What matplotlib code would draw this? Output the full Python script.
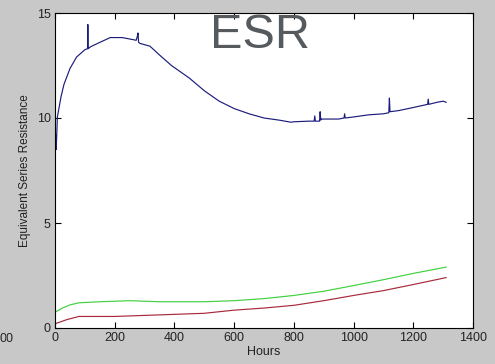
import matplotlib.pyplot as plt

plt.rcParams['font.family'] = ['Liberation Sans', 'DejaVu Sans']

# ESR curves
hours_blue = [0, 2, 4, 8, 20, 30, 50, 72, 100, 109, 110, 111, 120, 150, 185, 225, 262, 272,
              276, 278, 280, 285, 318, 350, 390, 450, 500, 550, 600, 650, 700, 750, 790,
              800, 850, 868, 870, 872, 886, 888, 890, 892, 900, 950, 968, 970, 972, 1000,
              1050, 1100, 1118, 1120, 1122, 1150, 1200, 1248, 1250, 1252, 1280, 1300, 1310]
esr_blue = [8.2, 9.2, 8.5, 10.05, 11.0, 11.6, 12.35, 12.9, 13.25, 13.3, 14.45, 13.3, 13.4,
            13.6, 13.83, 13.83, 13.73, 13.7, 13.9, 14.05, 13.6, 13.55, 13.42, 13.0, 12.5,
            11.9, 11.3, 10.8, 10.45, 10.2, 10.0, 9.9, 9.8, 9.82, 9.85, 9.85, 10.1, 9.85,
            9.85, 10.3, 9.9, 9.95, 9.95, 9.95, 10.0, 10.2, 10.0, 10.05, 10.15, 10.2, 10.25,
            10.95, 10.3, 10.35, 10.5, 10.65, 10.9, 10.65, 10.75, 10.8, 10.75]

hours_green = [0, 25, 50, 80, 150, 250, 350, 500, 600, 700, 800, 900, 1000, 1100, 1200, 1310]
esr_green = [0.75, 0.95, 1.1, 1.2, 1.25, 1.3, 1.25, 1.25, 1.3, 1.4, 1.55, 1.75, 2.02, 2.3,
             2.6, 2.9]

hours_red = [0, 20, 40, 80, 200, 300, 400, 500, 600, 700, 800, 900, 1000, 1100, 1200, 1310]
esr_red = [0.2, 0.3, 0.4, 0.55, 0.55, 0.6, 0.65, 0.7, 0.85, 0.95, 1.08, 1.3, 1.55, 1.78,
           2.07, 2.4]

fig = plt.figure(figsize=(4.95, 3.64), dpi=100, facecolor='#c8c8c8')
ax = fig.add_axes([55/495, 1 - 328/364, 418/495, 315/364])
ax.set_facecolor('white')

ax.plot(hours_blue, esr_blue, color='#1c1c7c', lw=0.85)
ax.plot(hours_green, esr_green, color='#40d040', lw=0.85)
ax.plot(hours_red, esr_red, color='#a82a3a', lw=0.85)

ax.set_xlim(0, 1400)
ax.set_ylim(0, 15)
ax.set_xticks(range(0, 1401, 200))
ax.set_yticks([0, 5, 10, 15])
ax.tick_params(direction='in', top=True, right=True, labelsize=9, length=4,
               width=0.8, pad=3, labelcolor='#222222')
for s in ax.spines.values():
    s.set_linewidth(0.8)
    s.set_color('black')

ax.set_xlabel('Hours', fontsize=9, labelpad=1, color='#222222')
ax.set_ylabel('Equivalent Series Resistance', fontsize=8.5, labelpad=4, color='#222222')

fig.text(260/495, 1 - 36/364, 'ESR', fontsize=35, color='#555a5e',
         ha='center', va='center')
fig.text(0, 1 - 339/364, '00', fontsize=9, ha='left', va='center', color='#222222')

fig.savefig('out.png', dpi=100, facecolor=fig.get_facecolor())
